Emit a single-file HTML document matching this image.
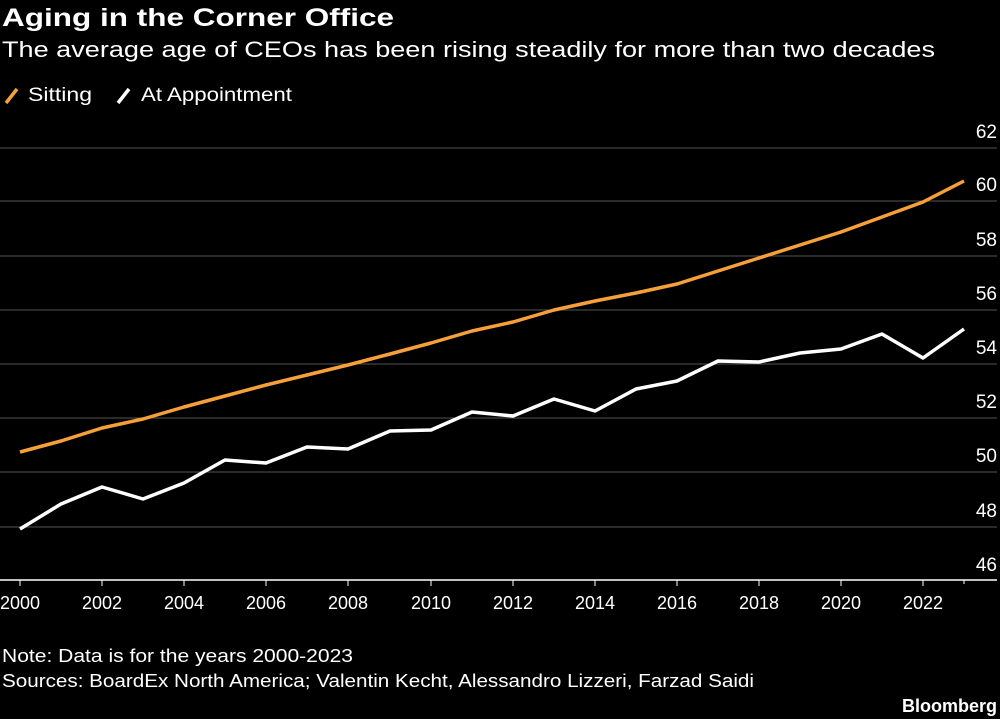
<!DOCTYPE html>
<html><head><meta charset="utf-8"><style>
html,body{margin:0;padding:0;background:#000;width:1000px;height:719px;overflow:hidden;font-family:"Liberation Sans",sans-serif;color:#fff}
</style></head><body>
<svg width="1000" height="719" xmlns="http://www.w3.org/2000/svg" font-family="Liberation Sans, sans-serif">
<rect width="1000" height="719" fill="#000"/>
<text x="2" y="26" font-size="25" font-weight="bold" fill="#fff" textLength="392" lengthAdjust="spacingAndGlyphs">Aging in the Corner Office</text>
<text x="2" y="57" font-size="22" fill="#fff" textLength="933" lengthAdjust="spacingAndGlyphs">The average age of CEOs has been rising steadily for more than two decades</text>
<line x1="6" y1="103" x2="17" y2="89" stroke="#f7a039" stroke-width="3.5"/>
<text x="28" y="101" font-size="19" fill="#fff" textLength="64" lengthAdjust="spacingAndGlyphs">Sitting</text>
<line x1="118" y1="103" x2="129" y2="89" stroke="#fff" stroke-width="3.5"/>
<text x="141" y="101" font-size="19" fill="#fff" textLength="151" lengthAdjust="spacingAndGlyphs">At Appointment</text>
<g stroke="#555" stroke-width="1">
<line x1="0" y1="148" x2="997" y2="148"/><line x1="0" y1="201" x2="997" y2="201"/>
<line x1="0" y1="256" x2="997" y2="256"/><line x1="0" y1="310" x2="997" y2="310"/>
<line x1="0" y1="364" x2="997" y2="364"/><line x1="0" y1="418" x2="997" y2="418"/>
<line x1="0" y1="472" x2="997" y2="472"/><line x1="0" y1="527" x2="997" y2="527"/>
</g>
<line x1="0" y1="580" x2="997" y2="580" stroke="#fff" stroke-width="1.5"/>
<g font-size="19" fill="#fff" text-anchor="end">
<text x="997" y="138">62</text><text x="997" y="191">60</text><text x="997" y="246">58</text>
<text x="997" y="300">56</text><text x="997" y="354">54</text><text x="997" y="408">52</text>
<text x="997" y="462">50</text><text x="997" y="517">48</text><text x="997" y="571">46</text>
</g>
<g stroke="#fff" stroke-width="1">
<line x1="20" y1="580" x2="20" y2="586"/><line x1="102" y1="580" x2="102" y2="586"/><line x1="184" y1="580" x2="184" y2="586"/><line x1="266" y1="580" x2="266" y2="586"/><line x1="348" y1="580" x2="348" y2="586"/><line x1="431" y1="580" x2="431" y2="586"/><line x1="513" y1="580" x2="513" y2="586"/><line x1="595" y1="580" x2="595" y2="586"/><line x1="677" y1="580" x2="677" y2="586"/><line x1="759" y1="580" x2="759" y2="586"/><line x1="841" y1="580" x2="841" y2="586"/><line x1="923" y1="580" x2="923" y2="586"/><line x1="964" y1="580" x2="964" y2="584"/>
</g>
<g font-size="18" fill="#fff" text-anchor="middle">
<text x="20" y="609">2000</text><text x="102" y="609">2002</text><text x="184" y="609">2004</text><text x="266" y="609">2006</text><text x="348" y="609">2008</text><text x="431" y="609">2010</text><text x="513" y="609">2012</text><text x="595" y="609">2014</text><text x="677" y="609">2016</text><text x="759" y="609">2018</text><text x="841" y="609">2020</text><text x="923" y="609">2022</text>
</g>
<polyline fill="none" stroke="#f7a039" stroke-width="3.5" stroke-linejoin="round" points="20,452 61,441 102,428 143,419 184,407 225,396 266,385 307,375 348,365 390,354 431,343 472,331 513,322 554,310 595,301 636,293 677,284 718,271 759,258 800,245 841,232 882,217 923,202 964,181"/>
<polyline fill="none" stroke="#fff" stroke-width="3.5" stroke-linejoin="round" points="20,529 61,504 102,487 143,499 184,483 225,460 266,463 307,447 348,449 390,431 431,430 472,412 513,416 554,399 595,411 636,389 677,381 718,361 759,362 800,353 841,349 882,334 923,358 964,329"/>
<text x="2" y="662" font-size="18" fill="#fff" textLength="351" lengthAdjust="spacingAndGlyphs">Note: Data is for the years 2000-2023</text>
<text x="2" y="687" font-size="18" fill="#fff" textLength="752" lengthAdjust="spacingAndGlyphs">Sources: BoardEx North America; Valentin Kecht, Alessandro Lizzeri, Farzad Saidi</text>
<text x="997" y="712" font-size="18" font-weight="bold" fill="#fff" text-anchor="end">Bloomberg</text>
</svg>
</body></html>
